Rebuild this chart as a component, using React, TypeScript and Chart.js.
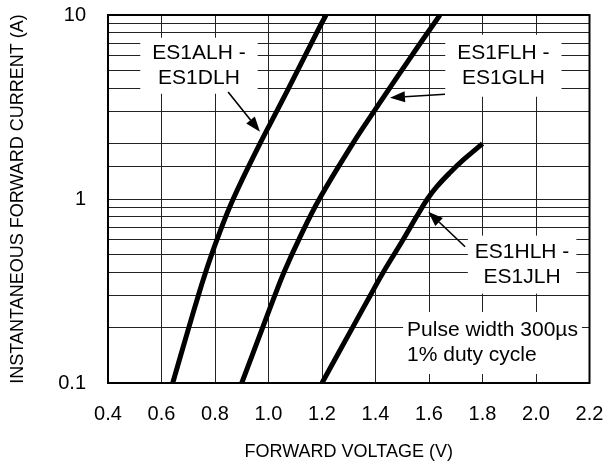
import React, { useEffect, useRef } from 'react';
import { Chart, registerables } from 'chart.js';

Chart.register(...registerables);

// ---- Data ----
const seriesNames = ['ES1ALH - ES1DLH', 'ES1FLH - ES1GLH', 'ES1HLH - ES1JLH'];

const currentA = [0.1, 0.2, 0.3, 0.4, 0.6, 1, 2, 3, 5, 8, 10];
const voltageA = [0.642, 0.702, 0.738, 0.765, 0.807, 0.868, 0.968, 1.031, 1.109, 1.18, 1.215];

const currentB = [0.1, 0.2, 0.3, 0.4, 0.6, 1, 2, 3, 6, 10];
const voltageB = [0.9, 0.978, 1.024, 1.058, 1.113, 1.19, 1.315, 1.395, 1.535, 1.641];

const currentC = [0.1, 0.2, 0.3, 0.4, 0.6, 0.8, 1.0, 1.17, 1.38, 1.63, 2.0];
const voltageC = [1.2, 1.314, 1.381, 1.429, 1.503, 1.553, 1.594, 1.63, 1.676, 1.728, 1.8];

const xMin = 0.4;
const xMax = 2.2;
const xStep = 0.2;
const yMin = 0.1;
const yMax = 10;
const yTickLabels = ['0.1', '1', '10'];

const xTitle = 'FORWARD VOLTAGE (V)';
const yTitle = 'INSTANTANEOUS FORWARD CURRENT (A)';

// Annotation texts, anchored in data coordinates (V, A)
const annotationLines = [
  ['ES1ALH -', 'ES1DLH'],
  ['ES1FLH -', 'ES1GLH'],
  ['ES1HLH -', 'ES1JLH'],
  ['Pulse width 300\u00b5s', '1% duty cycle'],
];
const annotationAnchors = [
  [0.74, 5.3],
  [1.878, 5.3],
  [1.948, 0.44],
  [1.518, 0.165],
];
const arrowFrom = [
  [0.849, 3.81],
  [1.66, 3.71],
  [1.735, 0.55],
];
const arrowTo = [
  [0.968, 2.32],
  [1.454, 3.55],
  [1.597, 0.853],
];

// ---- Styles ----
const FONT = "'Liberation Sans', Arial, Helvetica, sans-serif";
const annotationStyle = [
  { align: 'center', padX: 12, halfH: 28 },
  { align: 'center', padX: 12, halfH: 31 },
  { align: 'center', padX: 7, halfH: 29 },
  { align: 'left', padX: 4, halfH: 31 },
];

const toPoints = (xs: number[], ys: number[]) => xs.map((x, i) => ({ x, y: ys[i] }));

const annotationPlugin = {
  id: 'annotationsAndFrame',
  beforeDatasetsDraw(chart: any) {
    const { ctx, scales } = chart;
    const xs = scales.x;
    const ys = scales.y;
    ctx.save();
    ctx.font = `21px ${FONT}`;
    ctx.textBaseline = 'middle';
    const lineGap = 25;
    annotationLines.forEach((lines, i) => {
      const st = annotationStyle[i];
      const ax = xs.getPixelForValue(annotationAnchors[i][0]);
      const ay = ys.getPixelForValue(annotationAnchors[i][1]);
      const widths = lines.map((l) => ctx.measureText(l).width);
      const maxW = Math.max(...widths);
      const left = st.align === 'center' ? ax - maxW / 2 - st.padX : ax - st.padX;
      const boxW = maxW + st.padX * 2;
      ctx.fillStyle = '#fff';
      ctx.fillRect(left, ay - st.halfH, boxW, st.halfH * 2);
      ctx.fillStyle = '#000';
      ctx.textAlign = st.align === 'center' ? 'center' : 'left';
      lines.forEach((l, j) => {
        const ly = ay + (j - (lines.length - 1) / 2) * lineGap;
        ctx.fillText(l, ax, ly);
      });
    });
    ctx.restore();
  },
  afterDatasetsDraw(chart: any) {
    const { ctx, scales, chartArea } = chart;
    const xs = scales.x;
    const ys = scales.y;
    ctx.save();
    arrowFrom.forEach((f, i) => {
      const x1 = xs.getPixelForValue(f[0]);
      const y1 = ys.getPixelForValue(f[1]);
      const x2 = xs.getPixelForValue(arrowTo[i][0]);
      const y2 = ys.getPixelForValue(arrowTo[i][1]);
      const ang = Math.atan2(y2 - y1, x2 - x1);
      const headLen = 15;
      const headHalf = 5.5;
      const bx = x2 - headLen * Math.cos(ang);
      const by = y2 - headLen * Math.sin(ang);
      ctx.strokeStyle = '#000';
      ctx.lineWidth = 1.6;
      ctx.beginPath();
      ctx.moveTo(x1, y1);
      ctx.lineTo(bx, by);
      ctx.stroke();
      ctx.fillStyle = '#000';
      ctx.beginPath();
      ctx.moveTo(x2, y2);
      ctx.lineTo(bx + headHalf * Math.sin(ang), by - headHalf * Math.cos(ang));
      ctx.lineTo(bx - headHalf * Math.sin(ang), by + headHalf * Math.cos(ang));
      ctx.closePath();
      ctx.fill();
    });
    ctx.strokeStyle = '#000';
    ctx.lineWidth = 2;
    ctx.strokeRect(
      chartArea.left,
      chartArea.top,
      chartArea.right - chartArea.left,
      chartArea.bottom - chartArea.top
    );
    ctx.restore();
  },
};

const clearPadding = (s: any) => {
  s.paddingTop = 0;
  s.paddingBottom = 0;
  s.paddingLeft = 0;
  s.paddingRight = 0;
};

export default function App() {
  const canvasRef = useRef<HTMLCanvasElement>(null);

  useEffect(() => {
    const canvas = canvasRef.current;
    if (!canvas) return;
    const seriesData = [
      toPoints(voltageA, currentA),
      toPoints(voltageB, currentB),
      toPoints(voltageC, currentC),
    ];
    const chart = new Chart(canvas, {
      type: 'scatter',
      data: {
        datasets: seriesData.map((d, i) => ({
          label: seriesNames[i],
          data: d,
          showLine: true,
          borderColor: '#000',
          backgroundColor: '#000',
          borderWidth: 5,
          pointRadius: 0,
          pointHoverRadius: 0,
          tension: 0.4,
          borderCapStyle: 'butt' as const,
          borderJoinStyle: 'round' as const,
        })),
      },
      options: {
        responsive: false,
        animation: false,
        devicePixelRatio: 1,
        layout: { padding: { top: 15, right: 21.5, left: 0, bottom: 0 } },
        plugins: {
          legend: { display: false },
          tooltip: { enabled: false },
        },
        scales: {
          x: {
            type: 'linear',
            min: xMin,
            max: xMax,
            afterFit: (s: any) => {
              s.height = 83;
              clearPadding(s);
            },
            ticks: {
              stepSize: xStep,
              autoSkip: false,
              maxRotation: 0,
              padding: 19,
              color: '#000',
              font: { family: FONT, size: 20 },
              callback: (v: any) => Number(v).toFixed(1),
            },
            grid: { color: '#222', lineWidth: 1, drawTicks: false },
            border: { display: false },
            title: {
              display: true,
              text: xTitle,
              color: '#000',
              font: { family: FONT, size: 18 },
              padding: { top: 0, bottom: 3 },
            },
          },
          y: {
            type: 'logarithmic',
            min: yMin,
            max: yMax,
            afterFit: (s: any) => {
              s.width = 108;
              clearPadding(s);
            },
            ticks: {
              autoSkip: false,
              padding: 22,
              color: '#000',
              font: { family: FONT, size: 20 },
              callback: (v: any) => {
                const val = Number(v);
                const found = yTickLabels.find((t) => Math.abs(Number(t) - val) < val * 1e-6);
                return found ?? '';
              },
            },
            grid: { color: '#222', lineWidth: 1, drawTicks: false },
            border: { display: false },
            title: {
              display: true,
              text: yTitle,
              color: '#000',
              font: { family: FONT, size: 18 },
              padding: { top: 7, bottom: 0 },
            },
          },
        },
      },
      plugins: [annotationPlugin],
    } as any);
    return () => chart.destroy();
  }, []);

  return (
    <div style={{ position: 'fixed', left: 0, top: 0, width: 611, height: 466, background: '#fff' }}>
      <canvas ref={canvasRef} width={611} height={466} style={{ display: 'block', width: 611, height: 466 }} />
    </div>
  );
}
